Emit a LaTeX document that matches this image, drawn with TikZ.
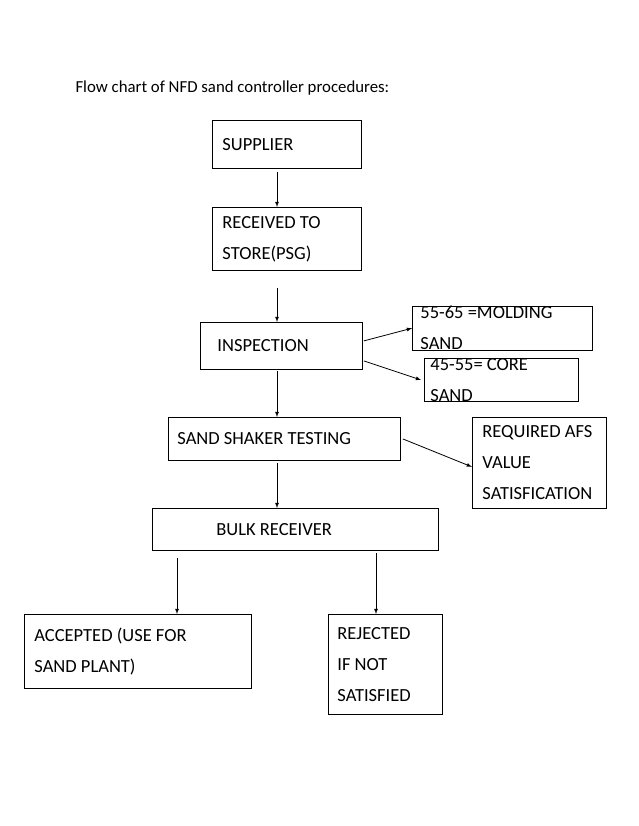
\documentclass[tikz,border=0pt]{standalone}
\usepackage{fontspec}
\setmainfont{Carlito}
\usetikzlibrary{arrows, positioning}
\begin{document}
\begin{tikzpicture}[x=1pt,y=-1pt,
    box/.style={draw, thick, rectangle, align=flush left, inner ysep=0pt,
        font=\fontsize{18.5}{31}\selectfont, anchor=north west},
    flow/.style={-latex, thick}]
\useasboundingbox (0,0) rectangle (638,826);
\node[anchor=west, font=\fontsize{16.8}{20}\selectfont] (title) at (72,88) {Flow chart of NFD sand controller procedures:};
% main column
\node[box, inner xsep=10pt, text width=129pt, minimum height=48pt] (sup) at (212,120) {SUPPLIER};
\node[box, inner xsep=10pt, text width=129pt, minimum height=63pt] (rec) at (212,207) {RECEIVED TO\\STORE(PSG)};
\node[box, inner xsep=17pt, text width=128pt, minimum height=47pt] (insp) at (200,322) {INSPECTION};
\node[box, inner xsep=9pt, text width=214pt, minimum height=43pt] (shake) at (168,417) {SAND SHAKER TESTING};
\node[box, inner xsep=64pt, text width=158pt, minimum height=42pt] (bulk) at (152,508) {BULK RECEIVER};
% side boxes
\node[box, inner xsep=8pt, text width=164pt, minimum height=34pt] (mold) at (412,306) {55-65 =MOLDING SAND};
\node[box, inner xsep=6pt, text width=142pt, minimum height=34pt] (core) at (424,358) {45-55= CORE SAND};
\node[box, inner xsep=10pt, text width=114pt, minimum height=91pt] (afs) at (472,417) {REQUIRED AFS\\VALUE\\SATISFICATION};
% outcomes
\node[box, inner xsep=10pt, text width=207pt, minimum height=74pt] (acc) at (24,614) {ACCEPTED (USE FOR\\SAND PLANT)};
\node[box, inner xsep=9pt, text width=96pt, minimum height=100pt] (rej) at (328,614) {REJECTED\\IF NOT\\SATISFIED};
% free arrow ends
\coordinate (a1) at (277,172);
\coordinate (a2) at (277,288);
\coordinate (a3) at (277,371);
\coordinate (a4) at (277,463);
\coordinate (b1) at (177,558);
\coordinate (b2) at (376,553);
\draw[flow] (a1) -- (a1 |- rec.north);
\draw[flow] (a2) -- (a2 |- insp.north);
\draw[flow] (a3) -- (a3 |- shake.north);
\draw[flow] (a4) -- (a4 |- bulk.north);
\draw[flow] ([shift={(1,-5)}]insp.east) -- (mold.west);
\draw[flow] ([shift={(1,15)}]insp.east) -- ([xshift=-3pt]core.west);
\draw[flow] ([xshift=2pt]shake.east) -- ([yshift=-4pt]afs.west);
\draw[flow] (b1) -- (b1 |- acc.north);
\draw[flow] (b2) -- (b2 |- rej.north);
\end{tikzpicture}
\end{document}
